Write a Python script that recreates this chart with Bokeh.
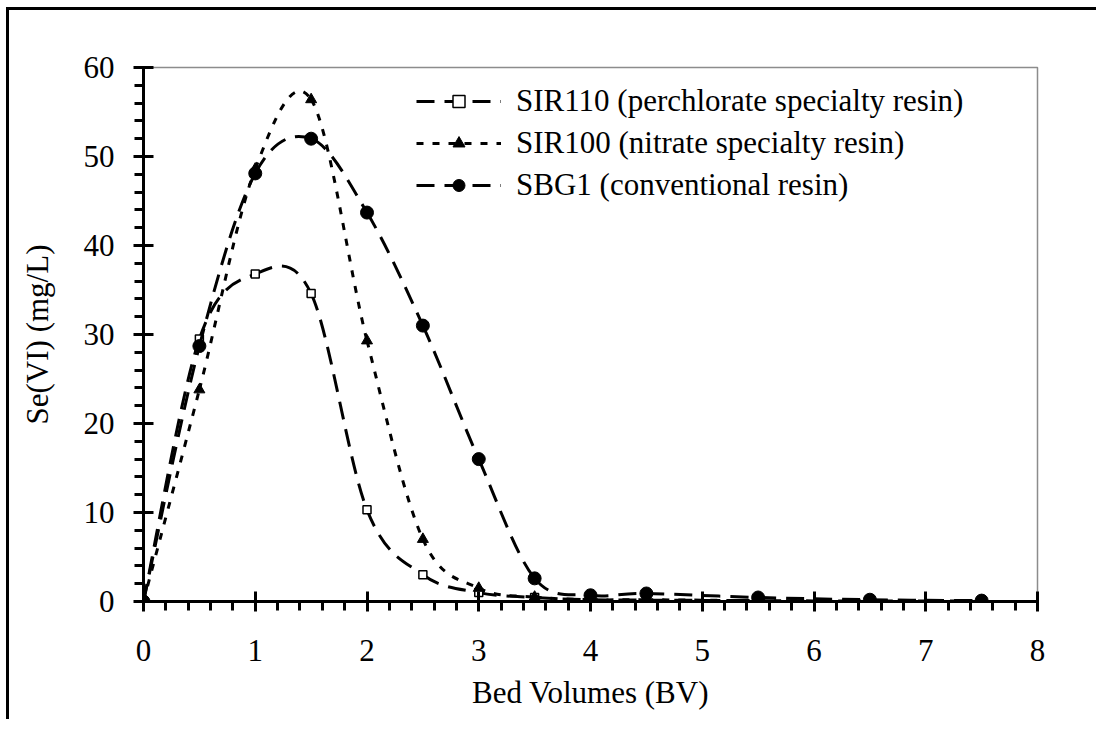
from bokeh.plotting import figure
from bokeh.models import Range1d, Legend, LegendItem, FixedTicker, ColumnDataSource
from bokeh.embed import file_html
from bokeh.resources import INLINE

# ---- data ----
bv = [0, 0.5, 1, 1.5, 2, 2.5, 3, 3.5, 4, 4.5, 5.5, 6.5, 7.5]
sir110 = [0, 29.5, 36.8, 34.6, 10.3, 3.0, 1.0, 0.45, 0.2, 0.15, 0.1, 0.05, 0.05]
sir100 = [0, 23.8, 48.6, 56.4, 29.3, 7.0, 1.5, 0.5, 0.2, 0.2, 0.1, 0.05, 0.05]
sbg1 = [0, 28.7, 48.1, 52.0, 43.7, 31.0, 16.0, 2.6, 0.7, 0.9, 0.45, 0.2, 0.1]

labels = ["SIR110 (perchlorate specialty resin)",
          "SIR100 (nitrate specialty resin)",
          "SBG1 (conventional resin)"]
x_ticks = list(range(0, 9))
y_ticks = list(range(0, 61, 10))

FONT = "Liberation Serif"
FS = "31px"


def smooth_segments(xs, ys):
    """Bezier control points (Catmull-Rom style, like a spreadsheet's smoothed line)."""
    n = len(xs)
    d = dict(x0=[], y0=[], x1=[], y1=[], cx0=[], cy0=[], cx1=[], cy1=[])
    for i in range(n - 1):
        xp, yp = (xs[i - 1], ys[i - 1]) if i > 0 else (xs[i], ys[i])
        xn, yn = (xs[i + 2], ys[i + 2]) if i + 2 < n else (xs[i + 1], ys[i + 1])
        d["x0"].append(xs[i]); d["y0"].append(ys[i])
        d["x1"].append(xs[i + 1]); d["y1"].append(ys[i + 1])
        d["cx0"].append(xs[i] + (xs[i + 1] - xp) / 6.0)
        d["cy0"].append(ys[i] + (ys[i + 1] - yp) / 6.0)
        d["cx1"].append(xs[i + 1] - (xn - xs[i]) / 6.0)
        d["cy1"].append(ys[i + 1] - (yn - ys[i]) / 6.0)
    return ColumnDataSource(d)


p = figure(width=1090, height=712, x_range=Range1d(0, 8), y_range=Range1d(0, 60),
           output_backend="svg", toolbar_location=None,
           min_border_left=134, min_border_right=62, min_border_top=57, min_border_bottom=121)
p.styles = {"border-top": "3px solid black", "border-left": "3px solid black",
            "margin-left": "6px", "margin-top": "7px"}

p.xgrid.visible = False
p.ygrid.visible = False
p.outline_line_color = "#8c8c8c"
p.outline_line_width = 1.5

for ax in (p.xaxis[0], p.yaxis[0]):
    ax.axis_line_width = 3
    ax.axis_line_color = "black"
    ax.major_tick_line_width = 3
    ax.minor_tick_line_width = 3
    ax.major_tick_in = 10
    ax.major_tick_out = 10
    ax.minor_tick_in = 0
    ax.minor_tick_out = 9
    ax.major_label_text_font = FONT
    ax.major_label_text_font_size = FS
    ax.major_label_text_color = "black"
    ax.axis_label_text_font = FONT
    ax.axis_label_text_font_size = FS
    ax.axis_label_text_font_style = "normal"
    ax.axis_label_text_color = "black"

p.xaxis.ticker = FixedTicker(ticks=x_ticks, minor_ticks=[i * 0.2 for i in range(41)])
p.yaxis.ticker = FixedTicker(ticks=y_ticks, minor_ticks=list(range(0, 61, 2)))
p.xaxis.axis_label = "Bed Volumes (BV)"
p.yaxis.axis_label = "Se(VI) (mg/L)"
p.xaxis.major_label_standoff = 28
p.yaxis.major_label_standoff = 19
p.xaxis.axis_label_standoff = 11
p.yaxis.axis_label_standoff = 26

items = []
# SIR110
l1 = p.bezier(x0="x0", y0="y0", x1="x1", y1="y1", cx0="cx0", cy0="cy0", cx1="cx1", cy1="cy1",
              source=smooth_segments(bv, sir110), line_color="black", line_width=3,
              line_dash="18 10")
m1 = p.scatter(bv, sir110, marker="square", size=8, fill_color="white",
               line_color="black", line_width=1.5)
items.append(LegendItem(label=labels[0], renderers=[l1, m1]))
# SIR100
l2 = p.bezier(x0="x0", y0="y0", x1="x1", y1="y1", cx0="cx0", cy0="cy0", cx1="cx1", cy1="cy1",
              source=smooth_segments(bv, sir100), line_color="black", line_width=3,
              line_dash="7 9")
m2 = p.scatter(bv, sir100, marker="triangle", size=11, fill_color="black", line_color="black")
items.append(LegendItem(label=labels[1], renderers=[l2, m2]))
# SBG1
l3 = p.bezier(x0="x0", y0="y0", x1="x1", y1="y1", cx0="cx0", cy0="cy0", cx1="cx1", cy1="cy1",
              source=smooth_segments(bv, sbg1), line_color="black", line_width=3,
              line_dash="18 10")
m3 = p.scatter(bv, sbg1, marker="circle", size=13, fill_color="black", line_color="black")
items.append(LegendItem(label=labels[2], renderers=[l3, m3]))

legend = Legend(items=items, location=(263, 388), glyph_width=85, glyph_height=30,
                label_height=30, spacing=6, padding=10, margin=0, label_standoff=15,
                border_line_alpha=0, background_fill_alpha=0,
                label_text_font=FONT, label_text_font_size=FS, label_text_color="black")
p.add_layout(legend)

open("out.html", "w").write(file_html(p, INLINE))
